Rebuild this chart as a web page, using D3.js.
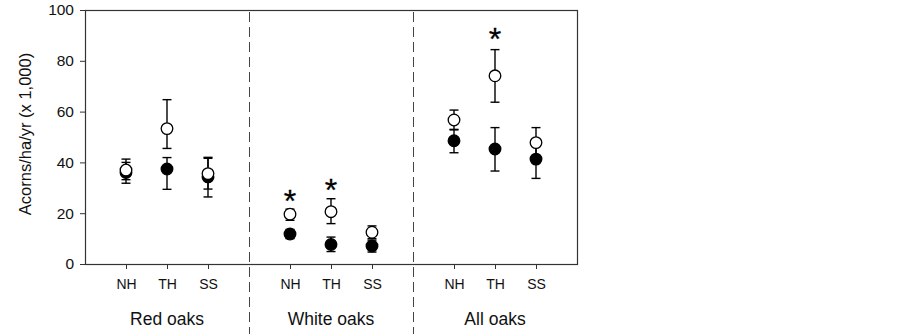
<!DOCTYPE html>
<html>
<head>
<meta charset="utf-8">
<script src="https://cdn.jsdelivr.net/npm/d3@7"></script>
<style>
  body { margin: 0; background: #fff; }
  svg { font-family: Arial, "Liberation Sans", sans-serif; }
</style>
</head>
<body>
<div id="chart"></div>
<script>
// groups and sites
var groups = ["Red oaks", "White oaks", "All oaks"];
var sites = ["NH", "TH", "SS"];
var yTicks = [0, 20, 40, 60, 80, 100];

// open circles (mean, low, high), in site order within each group
var openMean = [37, 53.3, 35.6, 19.6, 20.6, 12.5, 56.7, 74.1, 47.8];
var openLow = [33.2, 45.5, 29.5, 17.2, 15.9, 10, 52.8, 63.7, 42];
var openHigh = [41.3, 64.7, 42, 21.6, 25.7, 15, 60.6, 84.4, 53.7];

// filled circles
var fillMean = [36, 37.4, 34.3, 11.8, 7.7, 7.1, 48.5, 45.3, 41.3];
var fillLow = [31.8, 29.4, 26.4, 10, 4.9, 4.7, 43.8, 36.6, 33.7];
var fillHigh = [40, 41.9, 41.6, 13.6, 10.6, 9.4, 53, 53.7, 47];

// significance stars: index into the points and value where the star sits
var starIndex = [3, 4, 7];
var starValue = [27.4, 31.8, 91.5];

var width = 902, height = 334;
var margin = { top: 10, left: 85, bottom: 70, right: 325 };
var plotW = width - margin.left - margin.right;
var plotH = height - margin.top - margin.bottom;

var svg = d3.select("#chart").append("svg")
  .attr("width", width)
  .attr("height", height);

// x: slot positions, 3 sites per group with an empty slot between groups
var x = d3.scaleLinear().domain([0, 12]).range([margin.left, margin.left + plotW]);
var y = d3.scaleLinear().domain([0, 100]).range([margin.top + plotH, margin.top]);

function slot(i) {
  var g = Math.floor(i / 3);
  return g * 4 + (i % 3) + 1;
}

var ink = "#000";
var frame = "#333";
var font = "Arial, 'Liberation Sans', sans-serif";

// frame
svg.append("rect")
  .attr("x", x(0) + 0.5).attr("y", y(100) + 0.5)
  .attr("width", x(12) - x(0)).attr("height", y(0) - y(100))
  .attr("fill", "none").attr("stroke", frame).attr("stroke-width", 1.2);

// group separators
[4, 8].forEach(function (s) {
  svg.append("line")
    .attr("x1", x(s) + 0.5).attr("x2", x(s) + 0.5)
    .attr("y1", y(100) + 2).attr("y2", height)
    .attr("stroke", "#444").attr("stroke-width", 1)
    .attr("stroke-dasharray", "10,5");
});

// y axis
var yAxis = d3.axisLeft(y).tickValues(yTicks).tickSize(5).tickPadding(6);
var gy = svg.append("g").attr("transform", "translate(" + x(0) + ",0)").call(yAxis);
gy.select(".domain").remove();
gy.selectAll(".tick line").attr("stroke", frame);
gy.selectAll("text").attr("font-size", 15.5).attr("fill", "#111")
  .attr("font-family", font);

// x axis with site labels
var idx = d3.range(9);
var xAxis = d3.axisBottom(x).tickValues(idx.map(slot))
  .tickFormat(function (d, i) { return sites[i % 3]; })
  .tickSize(5).tickPadding(10);
var gx = svg.append("g").attr("transform", "translate(0," + y(0) + ")").call(xAxis);
gx.select(".domain").remove();
gx.selectAll(".tick line").attr("stroke", frame);
gx.selectAll("text").attr("font-size", 14).attr("fill", "#111")
  .attr("font-family", font);

// group labels
svg.selectAll(".group").data(groups).enter().append("text")
  .attr("class", "group")
  .attr("x", function (d, i) { return x(i * 4 + 2); })
  .attr("y", 324.5)
  .attr("text-anchor", "middle")
  .attr("font-size", 17.5).attr("fill", "#111")
  .text(function (d) { return d; });

// y title
svg.append("text")
  .attr("transform", "translate(31," + (margin.top + 124) + ") rotate(-90)")
  .attr("text-anchor", "middle")
  .attr("font-size", 16.5).attr("fill", "#111")
  .text("Acorns/ha/yr (x 1,000)");

var capW = 4.5, r = 5.8;

function drawSeries(mean, low, high, fill) {
  var g = svg.append("g");
  var pts = g.selectAll("g").data(idx).enter().append("g");
  pts.append("line")
    .attr("x1", function (i) { return x(slot(i)); })
    .attr("x2", function (i) { return x(slot(i)); })
    .attr("y1", function (i) { return y(low[i]); })
    .attr("y2", function (i) { return y(high[i]); })
    .attr("stroke", ink).attr("stroke-width", 1.4);
  [low, high].forEach(function (arr) {
    pts.append("line")
      .attr("x1", function (i) { return x(slot(i)) - capW; })
      .attr("x2", function (i) { return x(slot(i)) + capW; })
      .attr("y1", function (i) { return y(arr[i]); })
      .attr("y2", function (i) { return y(arr[i]); })
      .attr("stroke", ink).attr("stroke-width", 1.4);
  });
  pts.append("circle")
    .attr("cx", function (i) { return x(slot(i)); })
    .attr("cy", function (i) { return y(mean[i]); })
    .attr("r", r)
    .attr("fill", fill).attr("stroke", ink).attr("stroke-width", 1.3);
}

drawSeries(fillMean, fillLow, fillHigh, "#000");
drawSeries(openMean, openLow, openHigh, "#fff");

// stars
svg.selectAll(".star").data(starIndex).enter().append("text")
  .attr("class", "star")
  .attr("x", function (d) { return x(slot(d)); })
  .attr("y", function (d, k) { return y(starValue[k]) + 18; })
  .attr("text-anchor", "middle")
  .attr("font-size", 32).attr("fill", "#000")
  .attr("stroke", "#000").attr("stroke-width", 0.3)
  .text("*");
</script>
</body>
</html>
